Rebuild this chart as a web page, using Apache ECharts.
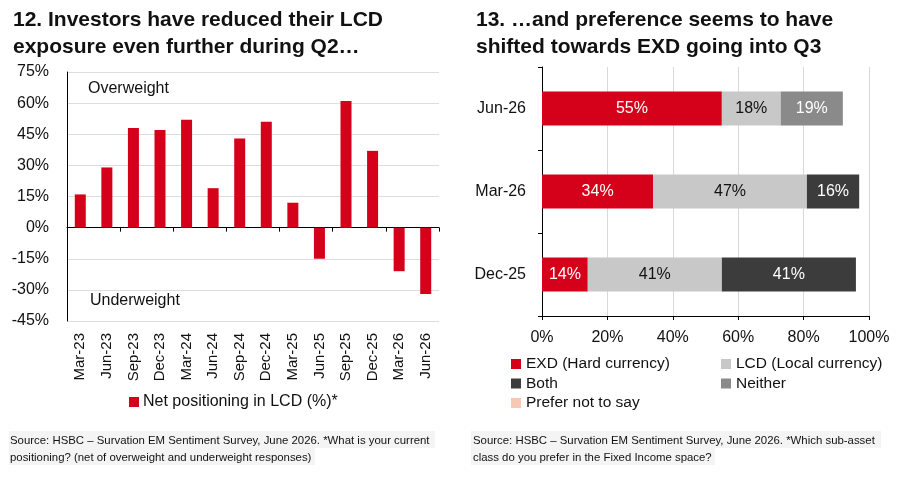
<!DOCTYPE html>
<html>
<head>
<meta charset="utf-8">
<script src="https://cdn.jsdelivr.net/npm/echarts@6/dist/echarts.min.js"></script>
<style>
  html, body { margin: 0; padding: 0; background: #fff; }
  #main { width: 905px; height: 484px; }
</style>
</head>
<body>
<div id="main"></div>
<script>
// 左图：LCD 净持仓
var quarters = ['Mar-23', 'Jun-23', 'Sep-23', 'Dec-23', 'Mar-24', 'Jun-24', 'Sep-24',
  'Dec-24', 'Mar-25', 'Jun-25', 'Sep-25', 'Dec-25', 'Mar-26', 'Jun-26'];
var netPositioning = [16, 29, 48, 47, 52, 19, 43, 51, 12, -15, 61, 37, -21, -32];

// 右图：子资产偏好
var surveys = ['Dec-25', 'Mar-26', 'Jun-26'];
var exdShare = [14, 34, 55];
var lcdShare = [41, 47, 18];
var bothShare = [41, 16, 0];
var neitherShare = [0, 0, 19];
var preferNotShare = [0, 0, 0];

var FONT = "'Liberation Sans', Arial, sans-serif";
var RED = '#d50019';

var myChart = echarts.init(document.getElementById('main'));

var barLabel = function(color) {
  return {
    show: true,
    color: color,
    fontSize: 16,
    fontFamily: FONT,
    formatter: function(p) {
      return p.value > 0 ? p.value + '%' : '';
    },
  };
};

var legendText = { fontSize: 15.5, color: '#111', fontFamily: FONT };

// 脚注底色（浅灰高亮）
var noteBand = function(x, y, w, h) {
  return { type: 'rect', left: x, top: y, z: -10, shape: { width: w, height: h }, style: { fill: '#f4f4f4' } };
};

var option = {
  backgroundColor: '#fff',
  animation: false,
  textStyle: { fontFamily: FONT },
  title: [
    {
      text: '12. Investors have reduced their LCD\nexposure even further during Q2…',
      left: 8,
      top: 2,
      textStyle: { fontSize: 21, fontWeight: 'bold', color: '#111', lineHeight: 27, fontFamily: FONT },
    },
    {
      text: '13. …and preference seems to have\nshifted towards EXD going into Q3',
      left: 471,
      top: 2,
      textStyle: { fontSize: 21, fontWeight: 'bold', color: '#111', lineHeight: 27, fontFamily: FONT },
    },
    {
      text: 'Source: HSBC – Survation EM Sentiment Survey, June 2026. *What is your current\npositioning? (net of overweight and underweight responses)',
      left: 5,
      top: 427,
      textStyle: { fontSize: 11.4, fontWeight: 'normal', color: '#111', lineHeight: 17, fontFamily: FONT },
    },
    {
      text: 'Source: HSBC – Survation EM Sentiment Survey, June 2026. *Which sub-asset\nclass do you prefer in the Fixed Income space?',
      left: 468,
      top: 427,
      textStyle: { fontSize: 11.4, fontWeight: 'normal', color: '#111', lineHeight: 17, fontFamily: FONT },
    },
  ],
  legend: [
    {
      data: ['Net positioning in LCD (%)*'],
      left: 129,
      top: 394,
      padding: 0,
      itemWidth: 10,
      itemHeight: 10,
      itemGap: 4,
      icon: 'rect',
      textStyle: { fontSize: 16, color: '#111', fontFamily: FONT, padding: [0, 0, 0, -1] },
    },
    {
      data: ['EXD (Hard currency)', 'Both', 'Prefer not to say'],
      orient: 'vertical',
      left: 511,
      top: 356,
      padding: 0,
      itemGap: 3.5,
      itemWidth: 10,
      itemHeight: 10,
      icon: 'rect',
      textStyle: legendText,
    },
    {
      data: ['LCD (Local currency)', 'Neither'],
      orient: 'vertical',
      left: 721,
      top: 356,
      padding: 0,
      itemGap: 3.5,
      itemWidth: 10,
      itemHeight: 10,
      icon: 'rect',
      textStyle: legendText,
    },
  ],
  grid: [
    { left: 67, top: 72, width: 372, height: 249 },
    { left: 542, top: 67, width: 327, height: 249 },
  ],
  xAxis: [
    {
      type: 'category',
      gridIndex: 0,
      data: quarters,
      position: 'bottom',
      axisLine: { onZero: true, lineStyle: { color: '#000', width: 1 } },
      axisTick: { show: true, length: 4, lineStyle: { color: '#000' } },
      axisLabel: { show: false },
    },
    {
      type: 'category',
      gridIndex: 0,
      data: quarters,
      position: 'bottom',
      axisLine: { show: false, onZero: false },
      axisTick: { show: false },
      axisLabel: { rotate: 90, margin: 12, fontSize: 15, color: '#111', fontFamily: FONT },
    },
    {
      type: 'value',
      gridIndex: 1,
      min: 0,
      max: 100,
      interval: 20,
      axisLine: { show: true, lineStyle: { color: '#000' } },
      axisTick: { show: true, length: 4, lineStyle: { color: '#000' } },
      axisLabel: { formatter: '{value}%', fontSize: 16, color: '#111', margin: 14, fontFamily: FONT },
      splitLine: { show: true, lineStyle: { color: '#d9d9d9' } },
    },
  ],
  yAxis: [
    {
      type: 'value',
      gridIndex: 0,
      min: -45,
      max: 75,
      interval: 15,
      axisLine: { show: true, lineStyle: { color: '#000' } },
      axisTick: { show: false },
      axisLabel: { formatter: '{value}%', fontSize: 16, color: '#111', margin: 18, fontFamily: FONT },
      splitLine: { show: true, lineStyle: { color: '#dedede' } },
    },
    {
      type: 'category',
      gridIndex: 1,
      data: surveys,
      axisLine: { show: true, lineStyle: { color: '#000' } },
      axisTick: { show: true, length: 4, lineStyle: { color: '#000' } },
      axisLabel: { fontSize: 16, color: '#111', margin: 16, fontFamily: FONT },
      splitLine: { show: false },
    },
  ],
  graphic: [
    noteBand(9, 431, 426, 17),
    noteBand(9, 448, 306, 17),
    noteBand(471, 431, 410, 17),
    noteBand(471, 448, 244, 17),
    {
      type: 'text',
      left: 88,
      top: 81,
      style: { text: 'Overweight', fontSize: 16, fill: '#111', fontFamily: FONT },
    },
    {
      type: 'text',
      left: 90,
      top: 293,
      style: { text: 'Underweight', fontSize: 16, fill: '#111', fontFamily: FONT },
    },
  ],
  series: [
    {
      name: 'Net positioning in LCD (%)*',
      type: 'bar',
      xAxisIndex: 0,
      yAxisIndex: 0,
      data: netPositioning,
      barWidth: 11,
      itemStyle: { color: RED },
    },
    {
      name: 'EXD (Hard currency)',
      type: 'bar',
      stack: 'pref',
      xAxisIndex: 2,
      yAxisIndex: 1,
      data: exdShare,
      barWidth: 34,
      itemStyle: { color: RED },
      label: barLabel('#fff'),
    },
    {
      name: 'LCD (Local currency)',
      type: 'bar',
      stack: 'pref',
      xAxisIndex: 2,
      yAxisIndex: 1,
      data: lcdShare,
      barWidth: 34,
      itemStyle: { color: '#c8c8c8' },
      label: barLabel('#111'),
    },
    {
      name: 'Both',
      type: 'bar',
      stack: 'pref',
      xAxisIndex: 2,
      yAxisIndex: 1,
      data: bothShare,
      barWidth: 34,
      itemStyle: { color: '#3c3c3c' },
      label: barLabel('#fff'),
    },
    {
      name: 'Neither',
      type: 'bar',
      stack: 'pref',
      xAxisIndex: 2,
      yAxisIndex: 1,
      data: neitherShare,
      barWidth: 34,
      itemStyle: { color: '#8a8a8a' },
      label: barLabel('#fff'),
    },
    {
      name: 'Prefer not to say',
      type: 'bar',
      stack: 'pref',
      xAxisIndex: 2,
      yAxisIndex: 1,
      data: preferNotShare,
      barWidth: 34,
      itemStyle: { color: '#f6c9b5' },
      label: barLabel('#111'),
    },
  ],
};
myChart.setOption(option);
</script>
</body>
</html>
